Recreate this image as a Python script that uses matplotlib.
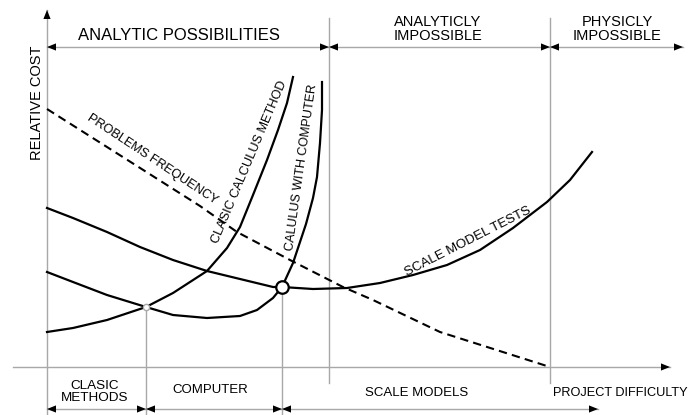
import matplotlib
matplotlib.use("Agg")
import matplotlib.pyplot as plt

plt.rcParams['font.family'] = ['Liberation Sans', 'DejaVu Sans']

# curves: x = project difficulty, y = relative cost
freq_x = [0, 60, 153, 190, 243, 296, 326, 393, 503]
freq_y = [258, 220, 161, 135, 107, 80, 67, 35, 0]

scale_x = [0, 26, 60, 93, 126, 160, 193, 226, 235, 266, 300, 333, 366, 400, 433, 466,
           500, 523, 545]
scale_y = [159, 149, 135, 120, 107, 96, 88, 80, 80, 78, 79, 84, 92, 102, 117, 139,
           165, 187, 215]

comp_x = [0, 26, 60, 99, 126, 160, 193, 210, 226, 235, 246, 259, 266, 270, 273, 275, 275]
comp_y = [95, 85, 72, 60, 52, 49, 51, 57, 69, 80, 104, 143, 169, 190, 224, 257, 285]

clasic_x = [0, 26, 60, 99, 126, 160, 180, 193, 206, 220, 231, 240, 246]
clasic_y = [35, 39, 47, 60, 74, 96, 119, 140, 172, 207, 237, 264, 290]

# intersections and region limits on the difficulty axis
cross_small = (99, 60)
cross_big = (235, 80)
bounds = [0, 99, 235, 282, 503]

GRAY = '#a8a8a8'

fig = plt.figure(figsize=(6.9, 4.15), dpi=100)
ax = fig.add_axes([0, 0, 1, 1])
ax.set_xlim(-47, 643)
ax.set_ylim(-48, 367)
ax.axis('off')


def head(x, y, d, horiz=True):
    # black triangular arrow head, tip at (x, y), pointing in direction d
    L, W = 9, 3.6
    if horiz:
        ax.fill([x, x - d * L, x - d * L], [y, y + W, y - W], color='k', lw=0, zorder=5)
    else:
        ax.fill([x, x + W, x - W], [y, y - d * L, y - d * L], color='k', lw=0, zorder=5)


def span(x0, x1, y):
    ax.plot([x0, x1], [y, y], color=GRAY, lw=1, zorder=1)
    head(x0, y, -1)
    head(x1, y, 1)


# axes
ax.plot([-34, 623], [0, 0], color=GRAY, lw=1)
head(623, 0, 1)
ax.plot([0, 0], [-48, 357], color=GRAY, lw=1)
head(0, 357, 1, horiz=False)

# region boundaries
ax.plot([bounds[1]] * 2, [-48, cross_small[1]], color=GRAY, lw=1)
ax.plot([bounds[2]] * 2, [-48, cross_big[1]], color=GRAY, lw=1)
ax.plot([bounds[3]] * 2, [-16, 349], color=GRAY, lw=1)
ax.plot([bounds[4]] * 2, [-16, 349], color=GRAY, lw=1)

# top spans
span(0, bounds[3], 320)
span(bounds[3], bounds[4], 320)
span(bounds[4], 636, 320)
# bottom spans
span(0, bounds[1], -42)
span(bounds[1], bounds[2], -42)
span(bounds[2], 551, -42)

# curves
ax.plot(freq_x, freq_y, color='k', lw=1.5, dashes=(4, 2.5))
ax.plot(scale_x, scale_y, color='k', lw=1.6, solid_joinstyle='round')
ax.plot(comp_x, comp_y, color='k', lw=1.6, solid_joinstyle='round')
ax.plot(clasic_x, clasic_y, color='k', lw=1.6, solid_joinstyle='round')
ax.plot(*cross_small, 'o', ms=4.5, mfc='white', mec=GRAY, mew=1, zorder=6)
ax.plot(*cross_big, 'o', ms=9, mfc='white', mec='k', mew=1.6, zorder=6)

# labels
ax.text(132, 332, 'ANALYTIC POSSIBILITIES', fontsize=12, ha='center', va='center')
ax.text(391, 338, 'ANALYTICLY\nIMPOSSIBLE', fontsize=10.5, ha='center', va='center',
        linespacing=1.0)
ax.text(570, 338, 'PHYSICLY\nIMPOSSIBLE', fontsize=10.5, ha='center', va='center',
        linespacing=1.0)
ax.text(48, -25, 'CLASIC\nMETHODS', fontsize=9.7, ha='center', va='center', linespacing=1.0)
ax.text(163, -23, 'COMPUTER', fontsize=9.5, ha='center', va='center')
ax.text(370, -26, 'SCALE MODELS', fontsize=9.5, ha='center', va='center')
ax.text(573, -26, 'PROJECT DIFFICULTY', fontsize=9.2, ha='center', va='center')
ax.text(-10, 264, 'RELATIVE COST', fontsize=10.5, ha='center', va='center', rotation=90)

ax.text(105, 208, 'PROBLEMS FREQUENCY', fontsize=9.2, ha='center', va='center',
        rotation=-33.5, rotation_mode='anchor')
ax.text(203, 205, 'CLASIC CALCULUS METHOD', fontsize=9.2, ha='center', va='center',
        rotation=67, rotation_mode='anchor')
ax.text(255, 200, 'CALULUS WITH COMPUTER', fontsize=9, ha='center', va='center',
        rotation=82, rotation_mode='anchor')
ax.text(421, 125, 'SCALE MODEL TESTS', fontsize=9.5, ha='center', va='center',
        rotation=27, rotation_mode='anchor')

fig.savefig('out.png', dpi=100)
